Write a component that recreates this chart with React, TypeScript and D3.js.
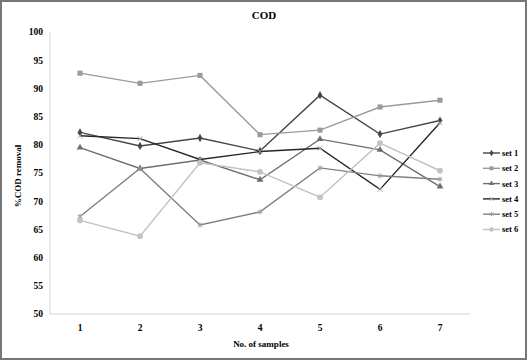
import * as d3 from 'd3'

const W = 528, H = 361

const samples = ['1', '2', '3', '4', '5', '6', '7']
const seriesNames = ['set 1', 'set 2', 'set 3', 'set 4', 'set 5', 'set 6']

const set1 = [82.2, 79.8, 81.2, 78.9, 88.8, 81.9, 84.3]
const set2 = [92.7, 90.9, 92.3, 81.8, 82.6, 86.7, 87.9]
const set3 = [79.5, 75.8, 77.3, 73.8, 81.0, 79.1, 72.6]
const set4 = [81.6, 81.1, 77.4, 78.8, 79.4, 72.1, 83.9]
const set5 = [67.3, 75.8, 65.8, 68.1, 75.9, 74.5, 73.9]
const set6 = [66.6, 63.8, 76.8, 75.2, 70.7, 80.3, 75.4]

const yTicks = [50, 55, 60, 65, 70, 75, 80, 85, 90, 95, 100]

const colors = ['#454545', '#9a9a9a', '#6e6e6e', '#262626', '#808080', '#c2c2c2']
const markerColors = ['#454545', '#9a9a9a', '#6e6e6e', '#a8a8a8', '#9c9c9c', '#c2c2c2']
const symbols = [
  d3.symbolDiamond, d3.symbolSquare, d3.symbolTriangle,
  d3.symbolTimes, d3.symbolAsterisk, d3.symbolCircle,
]
const filled = [true, true, true, false, false, true]
const sizes = [20, 26, 20, 18, 20, 26]

const series = [set1, set2, set3, set4, set5, set6]

const font = '"Liberation Serif", "Times New Roman", serif'

export default function App() {
  const x = d3.scaleBand().domain(samples).range([50, 470])
  const y = d3.scaleLinear().domain([50, 100]).range([314, 32])

  const line = d3.line<number>()
    .x((_, i) => x(samples[i])! + x.bandwidth() / 2)
    .y(d => y(d))

  const symbolPath = (k: number, s = sizes[k]) => d3.symbol(symbols[k], s)()!

  return (
    <svg width={W} height={H} style={{ position: 'absolute', left: 0, top: 0 }}
      fontFamily={font}>
      <rect x={0} y={0} width={W} height={H} fill="#fff" />
      <rect x={1} y={1} width={W - 3} height={H - 3} fill="none" stroke="#777" strokeWidth={2} />

      <text x={264} y={19} textAnchor="middle" fontSize={11} fontWeight="bold">COD</text>

      {/* axes */}
      <line x1={50} x2={50} y1={32} y2={314} stroke="#d6d6d6" />
      <line x1={50} x2={470} y1={314} y2={314} stroke="#d6d6d6" />

      {yTicks.map(t => (
        <text key={t} x={43} y={y(t)} dy="0.35em" textAnchor="end" fontSize={9.5} fontWeight="bold">{t}</text>
      ))}
      {samples.map(s => (
        <text key={s} x={x(s)! + x.bandwidth() / 2} y={331} textAnchor="middle" fontSize={9.5} fontWeight="bold">{s}</text>
      ))}

      <text x={261} y={347} textAnchor="middle" fontSize={9} fontWeight="bold">No. of samples</text>
      <text transform="translate(21,176) rotate(-90)" textAnchor="middle" fontSize={9} fontWeight="bold">%COD removal</text>

      {series.map((vals, k) => (
        <g key={k}>
          <path d={line(vals)!} fill="none" stroke={colors[k]} strokeWidth={1.4} />
          {vals.map((v, i) => (
            <path key={i}
              d={symbolPath(k)}
              transform={`translate(${x(samples[i])! + x.bandwidth() / 2},${y(v)})`}
              fill={filled[k] ? markerColors[k] : 'none'}
              stroke={filled[k] ? 'none' : markerColors[k]}
              strokeWidth={1} />
          ))}
        </g>
      ))}

      {/* legend */}
      {seriesNames.map((name, k) => {
        const ly = 153 + k * 15.3
        return (
          <g key={name}>
            <line x1={483} x2={500} y1={ly} y2={ly} stroke={colors[k]} strokeWidth={1.4} />
            <path d={symbolPath(k, sizes[k] * 0.6)} transform={`translate(491.5,${ly})`}
              fill={filled[k] ? markerColors[k] : 'none'}
              stroke={filled[k] ? 'none' : markerColors[k]} strokeWidth={1} />
            <text x={502} y={ly} dy="0.35em" fontSize={8.5} fontWeight="bold">{name}</text>
          </g>
        )
      })}
    </svg>
  )
}
